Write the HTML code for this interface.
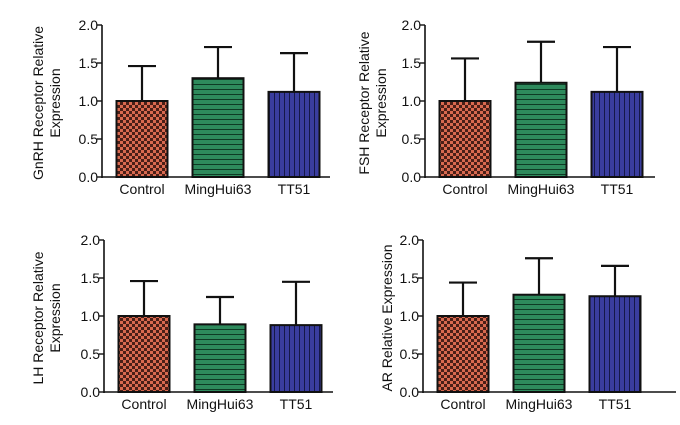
<!DOCTYPE html>
<html><head><meta charset="utf-8"><style>
html,body{margin:0;padding:0;background:#fff;}
svg{display:block;font-family:"Liberation Sans",sans-serif;}
</style></head><body>
<svg id="chart" width="680" height="425" viewBox="0 0 680 425" xmlns="http://www.w3.org/2000/svg">
<defs>
<pattern id="pCheck" width="6" height="6" patternUnits="userSpaceOnUse">
<rect width="6" height="6" fill="#d8694f"/><rect width="3" height="3" fill="#4a1f17"/><rect x="3" y="3" width="3" height="3" fill="#4a1f17"/>
</pattern>
<pattern id="pH" width="6" height="5" patternUnits="userSpaceOnUse">
<rect width="6" height="5" fill="#2e8a5c"/><rect y="4" width="6" height="1" fill="#0e3a24"/>
</pattern>
<pattern id="pV" width="5" height="6" patternUnits="userSpaceOnUse">
<rect width="5" height="6" fill="#3a3d9e"/><rect x="4" width="1" height="6" fill="#151848"/>
</pattern>
</defs>
</svg>
<script>
const categories = ["Control","MingHui63","TT51"];
const gnrhMeans = [1.0, 1.30, 1.12];
const gnrhErr = [1.46, 1.71, 1.63];
const fshMeans = [1.0, 1.24, 1.12];
const fshErr = [1.56, 1.78, 1.71];
const lhMeans = [1.0, 0.89, 0.88];
const lhErr = [1.46, 1.25, 1.45];
const arMeans = [1.0, 1.28, 1.26];
const arErr = [1.44, 1.76, 1.66];
const yTicks = [0, 0.5, 1.0, 1.5, 2.0];
const yTickLabels = ["0.0","0.5","1.0","1.5","2.0"];

const svg = document.getElementById('chart');
const NS = 'http://www.w3.org/2000/svg';
function mk(tag, attrs, parent){const e=document.createElementNS(NS,tag);for(const k in attrs)e.setAttribute(k,attrs[k]);(parent||svg).appendChild(e);return e;}
const fills = ["url(#pCheck)","url(#pH)","url(#pV)"];

const panels = [
 {name:'gnrh', ox:102, xe:330, y0:177, y2:25, means:gnrhMeans, errs:gnrhErr, title:["GnRH Receptor Relative","Expression"], tx:38},
 {name:'fsh', ox:425, xe:655, y0:177, y2:25, means:fshMeans, errs:fshErr, title:["FSH Receptor Relative","Expression"], tx:364},
 {name:'lh', ox:104, xe:333, y0:392, y2:240, means:lhMeans, errs:lhErr, title:["LH Receptor Relative","Expression"], tx:38},
 {name:'ar', ox:423, xe:676, y0:392, y2:240, means:arMeans, errs:arErr, title:["AR Relative Expression"], tx:387}
];

panels.forEach(p=>{
  const g = mk('g',{});
  
  
  const y = v => p.y0 - (v/2.0)*(p.y0-p.y2);
  const xc = i => p.ox + 40 + i*76;
  const bw = 51;
  categories.forEach((c,i)=>{
    const top = y(p.means[i]);
    const eb = mk('line',{x1:xc(i),x2:xc(i),y1:top,y2:y(p.errs[i]),stroke:'#111','stroke-width':2.2},g);
    
    
    const cap = mk('line',{x1:xc(i)-14,x2:xc(i)+14,y1:y(p.errs[i]),y2:y(p.errs[i]),stroke:'#111','stroke-width':2.2},g);
    
    
    const r = mk('rect',{x:xc(i)-bw/2,y:top,width:bw,height:p.y0-top,fill:fills[i],stroke:'#111','stroke-width':2},g);
    
    
    const t = mk('text',{x:xc(i),y:p.y0+17,'text-anchor':'middle','font-size':14,fill:'#111'},g);
    t.textContent = c;
    
    
  });
  const ya = mk('line',{x1:p.ox,x2:p.ox,y1:p.y2,y2:p.y0+1,stroke:'#111','stroke-width':1.6},g);
  
  
  const xa = mk('line',{x1:p.ox,x2:p.xe,y1:p.y0,y2:p.y0,stroke:'#111','stroke-width':1.6},g);
  
  
  yTicks.forEach((v,k)=>{
    const tk = mk('line',{x1:p.ox-5,x2:p.ox,y1:y(v),y2:y(v),stroke:'#111','stroke-width':1.4},g);
    
    
    const tl = mk('text',{x:p.ox-4,y:y(v)+5,'text-anchor':'end','font-size':14,fill:'#111'},g);
    tl.textContent = yTickLabels[k];
    
    
  });
  const cy = (p.y0+p.y2)/2 + 2;
  p.title.forEach((line,j)=>{
    const lx = p.tx + j*17 + 5;
    const tt = mk('text',{x:lx,y:cy,'text-anchor':'middle','font-size':14,fill:'#111',transform:'rotate(-90 '+lx+' '+cy+')'},g);
    tt.textContent = line;
    
    
  });
});
</script>
</body></html>
